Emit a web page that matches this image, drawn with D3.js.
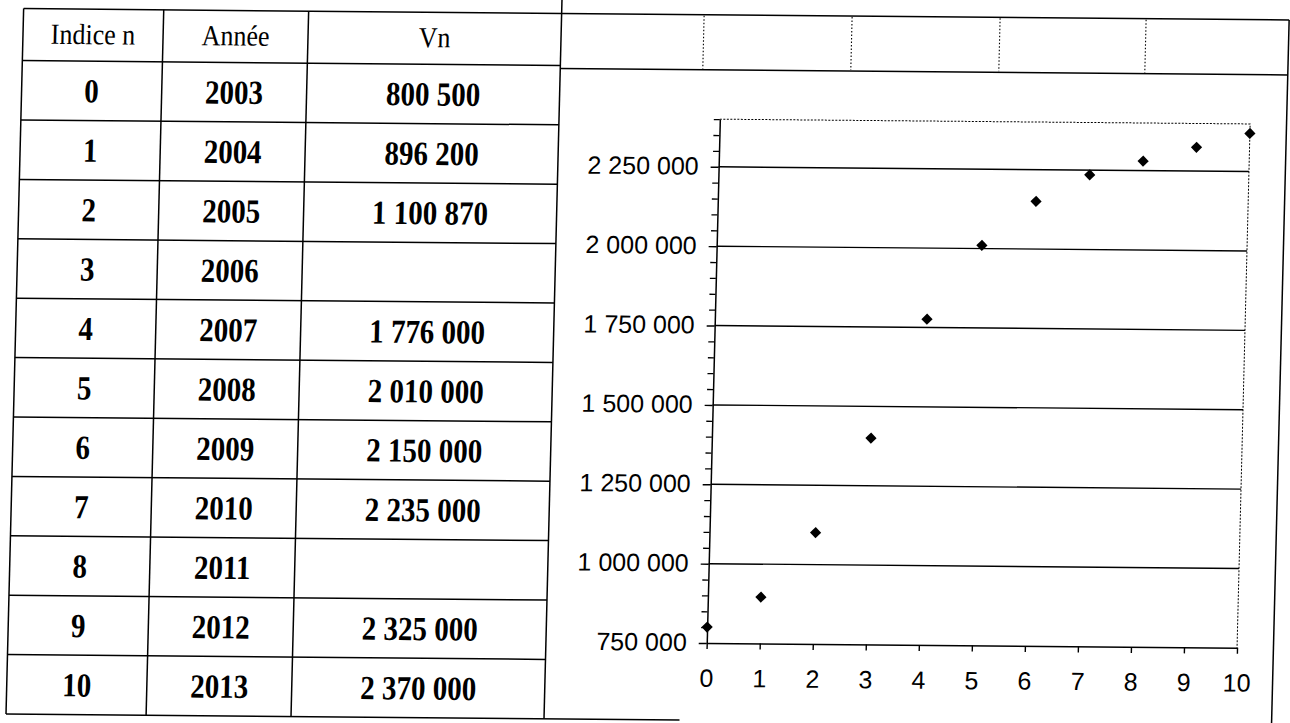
<!DOCTYPE html>
<html><head><meta charset="utf-8">
<script src="https://cdn.jsdelivr.net/npm/d3@7"></script>
<style>
html,body{margin:0;padding:0;background:#fff;}
svg{display:block;}
</style></head>
<body>
<svg id="c" width="1290" height="723"></svg>
<script>
// ---- data ----
const headers = ["Indice n", "Année", "Vn"];
const indices = [0,1,2,3,4,5,6,7,8,9,10];
const years = [2003,2004,2005,2006,2007,2008,2009,2010,2011,2012,2013];
const tableValues = [800500, 896200, 1100870, null, 1776000, 2010000, 2150000, 2235000, null, 2325000, 2370000];
const chartValues = [800500, 896200, 1100870, 1400000, 1776000, 2010000, 2150000, 2235000, 2280000, 2325000, 2370000];
const yMajorTicks = [750000, 1000000, 1250000, 1500000, 1750000, 2000000, 2250000];
const xTicks = [0,1,2,3,4,5,6,7,8,9,10];

const fr = d3.formatLocale({decimal:",", thousands:"\u00a0", grouping:[3], currency:["","€"]});
const fmt = v => fr.format(",")(v).replace(/\u00a0/g," ");

const svg = d3.select("#c");
const ink = "#000";
// slight scan skew of the original page
const kx = -0.025, sy = 0.009;
const page = svg.append("g")
  .attr("transform", `matrix(1,${sy},${kx},1,${-kx*380},${-sy*650})`);

// ---- table ----
const colX = [14.5, 154.6, 299.5, 552.5];
const topY = 14.3, headBottom = 66.3, rowH = 59.4;
const rowsBottom = headBottom + rowH * indices.length;
const tg = page.append("g");

const hLines = [topY, headBottom].concat(indices.map((d,i)=> headBottom + rowH*(i+1)));
tg.selectAll("line.h").data(hLines).join("line")
  .attr("x1", colX[0]).attr("x2", (d,i)=> i===hLines.length-1 ? 688 : colX[3])
  .attr("y1", d=>d).attr("y2", d=>d)
  .attr("stroke", ink).attr("stroke-width", 1.5);
tg.selectAll("line.v").data(colX).join("line")
  .attr("x1", d=>d).attr("x2", d=>d)
  .attr("y1", (d,i)=> i===3 ? -5 : topY).attr("y2", rowsBottom)
  .attr("stroke", ink).attr("stroke-width", 1.5);

const colC = colX.slice(0,3).map((d,i)=> (d + colX[i+1])/2);
tg.selectAll("text.hd").data(headers).join("text")
  .attr("transform",(d,i)=>`translate(${colC[i]},${(topY+headBottom)/2+9}) scale(1,1.12)`)
  .attr("text-anchor","middle")
  .style("font-family","'Liberation Serif', serif").style("font-size","26px")
  .text(d=>d);

const rows = indices.map((n,i)=>[String(n), String(years[i]), tableValues[i]==null ? "" : fmt(tableValues[i])]);
rows.forEach((r,i)=>{
  const cy = headBottom + rowH*i + rowH/2 + 11.5;
  tg.append("g").selectAll("text").data(r).join("text")
    .attr("transform",(d,j)=>`translate(${colC[j]},${cy}) scale(1,1.16)`)
    .attr("text-anchor","middle")
    .style("font-family","'Liberation Serif', serif").style("font-size","29px").style("font-weight","bold")
    .text(d=>d);
});

// ---- right header row ----
const rightX = 1280;
const rg = page.append("g");
rg.append("line").attr("x1",colX[3]).attr("x2",rightX).attr("y1",topY).attr("y2",topY).attr("stroke",ink).attr("stroke-width",1.5);
rg.append("line").attr("x1",colX[3]).attr("x2",rightX).attr("y1",headBottom+3).attr("y2",headBottom+3).attr("stroke",ink).attr("stroke-width",1.5);
rg.selectAll("line.sep").data([695,843,991,1137]).join("line")
  .attr("x1",d=>d).attr("x2",d=>d).attr("y1",topY+1).attr("y2",headBottom+2)
  .attr("stroke",ink).attr("stroke-width",1.1).attr("stroke-dasharray","1.5,2");
rg.append("line").attr("x1",rightX).attr("x2",rightX).attr("y1",topY).attr("y2",740).attr("stroke",ink).attr("stroke-width",1.5);

// ---- chart ----
const x = d3.scaleLinear().domain([0,10]).range([713.3,1243.6]);
const y = d3.scaleLinear().domain([750000,2400000]).range([642.5,118.6]);
const cg = page.append("g");

cg.append("path")
  .attr("d", `M${x(0)},${y(2400000)}H${x(10)}V${y(750000)}`)
  .attr("fill","none").attr("stroke",ink).attr("stroke-width",1).attr("stroke-dasharray","2,1.5");

cg.selectAll("line.grid").data(yMajorTicks.slice(1)).join("line")
  .attr("x1",x(0)).attr("x2",x(10)).attr("y1",d=>y(d)).attr("y2",d=>y(d))
  .attr("stroke",ink).attr("stroke-width",1.4);

const minor = d3.range(750000, 2400001, 50000).filter(v=>!yMajorTicks.includes(v));
cg.append("g").attr("transform",`translate(${x(0)},0)`)
  .call(d3.axisLeft(y).tickValues(minor).tickSize(6).tickFormat(""))
  .call(g=>g.select(".domain").remove())
  .call(g=>g.selectAll("line").attr("stroke",ink).attr("stroke-width",1.3));
const yAx = cg.append("g").attr("transform",`translate(${x(0)},0)`)
  .call(d3.axisLeft(y).tickValues(yMajorTicks).tickSize(8).tickPadding(12).tickSizeOuter(0).tickFormat(fmt));
yAx.select(".domain").attr("stroke",ink).attr("stroke-width",1.5);
yAx.selectAll("line").attr("stroke",ink).attr("stroke-width",1.4);
yAx.selectAll("text").attr("dy","0.3em")
  .style("font-family","'Liberation Sans', Arial, sans-serif").style("font-size","25px")
  .attr("fill",ink);

const xAx = cg.append("g").attr("transform",`translate(0,${y(750000)})`)
  .call(d3.axisBottom(x).tickValues(xTicks).tickSize(6).tickPadding(20).tickSizeOuter(0).tickFormat(d3.format("d")));
xAx.select(".domain").attr("stroke",ink).attr("stroke-width",1.5);
xAx.selectAll("line").attr("stroke",ink).attr("stroke-width",1.4);
xAx.selectAll("text")
  .style("font-family","'Liberation Sans', Arial, sans-serif").style("font-size","25px")
  .attr("fill",ink);

cg.selectAll("path.pt").data(chartValues).join("path")
  .attr("d", d3.symbol().type(d3.symbolDiamond2).size(80))
  .attr("transform",(d,i)=>`translate(${x(xTicks[i])},${y(d)})`)
  .attr("fill",ink);
</script>
</body></html>
